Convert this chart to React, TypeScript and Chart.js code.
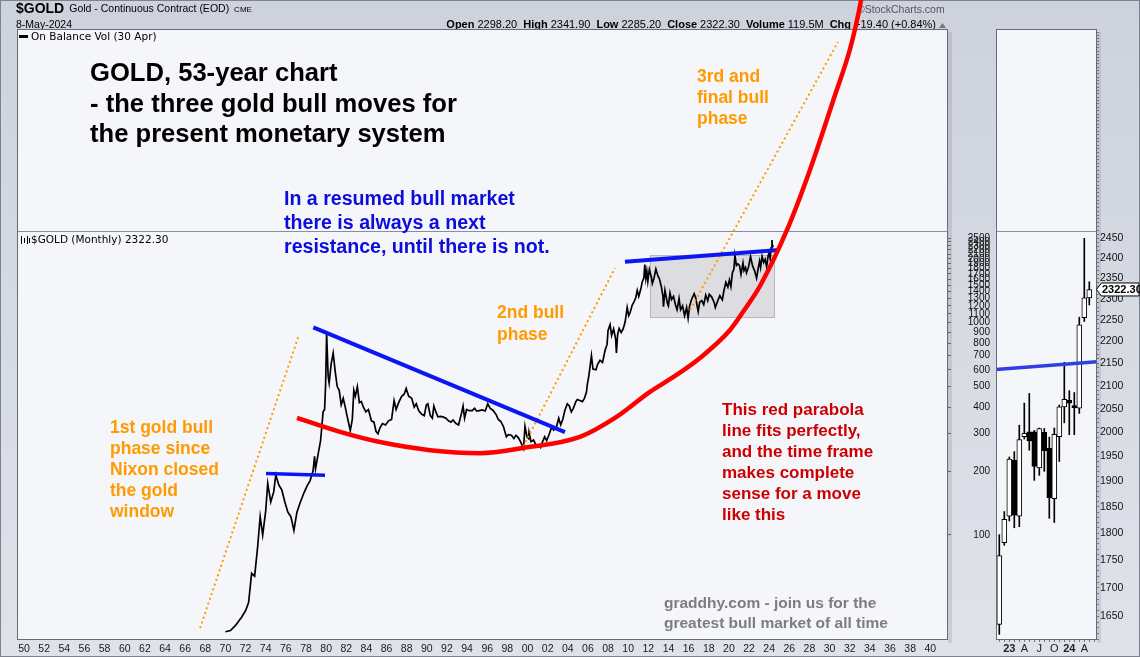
import React, { useEffect, useRef } from "react";
import { Chart, registerables } from "chart.js";
Chart.register(...registerables);

// ---------- Main chart data: $GOLD monthly (year, price) ----------
const gold1970s: [number, number][] = [
  [1970.0, 35], [1970.5, 35.5], [1971.0, 37.5], [1971.6, 41], [1972.0, 44], [1972.3, 48], [1972.6, 66], [1972.9, 64],
  [1973.2, 88], [1973.45, 122], [1973.7, 100], [1974.0, 130], [1974.2, 175], [1974.5, 143], [1974.8, 160], [1975.0, 192],
  [1975.3, 172], [1975.6, 163], [1975.9, 143], [1976.2, 128], [1976.5, 122], [1976.8, 105], [1977.1, 128], [1977.4, 141],
  [1977.8, 158], [1978.1, 170], [1978.4, 180], [1978.7, 200], [1978.85, 235], [1978.95, 205], [1979.2, 240], [1979.45, 278],
  [1979.7, 380], [1979.85, 390], [1979.95, 512],
];
const gold1980s: [number, number][] = [
  [1980.05, 890], [1980.2, 560], [1980.3, 520], [1980.5, 640], [1980.7, 720], [1980.9, 590], [1981.1, 500], [1981.3, 480],
  [1981.5, 410], [1981.7, 440], [1981.9, 400], [1982.1, 360], [1982.4, 310], [1982.6, 350], [1982.75, 480], [1982.9, 450],
  [1983.1, 500], [1983.3, 420], [1983.5, 425], [1983.7, 400], [1983.95, 380], [1984.2, 390], [1984.5, 345], [1984.75, 340],
  [1984.95, 308], [1985.15, 300], [1985.35, 320], [1985.6, 335], [1985.9, 330], [1986.2, 345], [1986.5, 350], [1986.75, 430],
  [1986.95, 390], [1987.2, 420], [1987.5, 450], [1987.75, 460], [1987.95, 490], [1988.2, 450], [1988.5, 440], [1988.75, 400],
  [1988.95, 415], [1989.2, 385], [1989.5, 370], [1989.75, 365], [1989.95, 410],
];
const gold1990s: [number, number][] = [
  [1990.1, 415], [1990.35, 365], [1990.55, 355], [1990.7, 405], [1990.9, 380], [1991.1, 360], [1991.35, 362], [1991.6, 360],
  [1991.9, 355], [1992.15, 345], [1992.4, 340], [1992.6, 348], [1992.9, 335], [1993.15, 330], [1993.45, 375], [1993.6, 405],
  [1993.75, 355], [1993.95, 390], [1994.2, 385], [1994.5, 385], [1994.75, 395], [1994.95, 383], [1995.2, 385], [1995.5, 388],
  [1995.8, 384], [1996.05, 415], [1996.3, 395], [1996.6, 385], [1996.9, 368], [1997.1, 350], [1997.35, 342], [1997.6, 325],
  [1997.9, 290], [1998.1, 297], [1998.4, 295], [1998.65, 285], [1998.85, 295], [1999.1, 287], [1999.35, 272], [1999.6, 255],
  [1999.75, 325], [1999.95, 290],
];
const gold2000s: [number, number][] = [
  [2000.1, 285], [2000.15, 305], [2000.35, 275], [2000.6, 280], [2000.85, 265], [2001.1, 265], [2001.3, 258], [2001.45, 272],
  [2001.7, 290], [2001.9, 278], [2002.15, 298], [2002.4, 322], [2002.6, 312], [2002.85, 320], [2003.1, 355], [2003.3, 330],
  [2003.5, 350], [2003.7, 385], [2003.95, 415], [2004.15, 405], [2004.35, 380], [2004.55, 395], [2004.8, 425], [2004.95, 435],
  [2005.2, 430], [2005.45, 425], [2005.65, 440], [2005.85, 470], [2005.95, 515], [2006.1, 565], [2006.35, 700], [2006.5, 605],
  [2006.8, 600], [2006.95, 635], [2007.2, 665], [2007.45, 650], [2007.7, 740], [2007.9, 790], [2008.0, 920], [2008.2, 980],
  [2008.35, 870], [2008.55, 935], [2008.75, 840], [2008.83, 720], [2008.95, 880], [2009.1, 940], [2009.3, 900], [2009.5, 935],
  [2009.7, 1010], [2009.9, 1180],
];
const gold2010s: [number, number][] = [
  [2010.05, 1080], [2010.2, 1120], [2010.4, 1210], [2010.55, 1245], [2010.75, 1310], [2010.9, 1420], [2011.05, 1330],
  [2011.25, 1440], [2011.4, 1560], [2011.55, 1620], [2011.65, 1880], [2011.75, 1620], [2011.85, 1750], [2011.95, 1565],
  [2012.1, 1780], [2012.3, 1640], [2012.4, 1530], [2012.55, 1610], [2012.75, 1790], [2012.95, 1660], [2013.1, 1610],
  [2013.3, 1470], [2013.45, 1330], [2013.5, 1190], [2013.65, 1420], [2013.9, 1230], [2013.99, 1200], [2014.15, 1380],
  [2014.3, 1285], [2014.5, 1330], [2014.7, 1210], [2014.85, 1150], [2015.05, 1300], [2015.2, 1150], [2015.4, 1200],
  [2015.6, 1080], [2015.8, 1180], [2015.95, 1050], [2016.1, 1200], [2016.3, 1290], [2016.55, 1370], [2016.7, 1310],
  [2016.95, 1130], [2017.1, 1250], [2017.3, 1270], [2017.5, 1215], [2017.7, 1350], [2017.9, 1270], [2018.05, 1360],
  [2018.3, 1320], [2018.55, 1240], [2018.65, 1180], [2018.95, 1290], [2019.1, 1340], [2019.35, 1280], [2019.5, 1410],
  [2019.7, 1550], [2019.9, 1470],
];
const gold2020s: [number, number][] = [
  [2020.05, 1590], [2020.2, 1480], [2020.35, 1720], [2020.5, 1790], [2020.6, 2075], [2020.75, 1860], [2020.9, 1890],
  [2021.05, 1860], [2021.2, 1690], [2021.4, 1910], [2021.5, 1760], [2021.65, 1820], [2021.75, 1720], [2021.95, 1830],
  [2022.15, 2050], [2022.35, 1850], [2022.55, 1760], [2022.75, 1620], [2022.9, 1790], [2023.05, 1950], [2023.15, 1820],
  [2023.3, 2050], [2023.45, 1920], [2023.6, 1990], [2023.75, 1830], [2023.9, 2070], [2024.0, 2150], [2024.1, 2010],
  [2024.2, 2250], [2024.28, 2450], [2024.32, 2290], [2024.36, 2322],
];

const yearTicks = [
  1950, 1952, 1954, 1956, 1958, 1960, 1962, 1964, 1966, 1968, 1970, 1972, 1974, 1976, 1978, 1980, 1982, 1984, 1986, 1988,
  1990, 1992, 1994, 1996, 1998, 2000, 2002, 2004, 2006, 2008, 2010, 2012, 2014, 2016, 2018, 2020, 2022, 2024, 2026, 2028,
  2030, 2032, 2034, 2036, 2038, 2040,
];
const priceTicks = [100, 200, 300, 400, 500, 600, 700, 800, 900, 1000, 1100, 1200, 1300, 1400, 1500, 1600, 1700, 1800, 1900,
  2000, 2100, 2200, 2300, 2400, 2500];

// ---------- Annotations (year, price) ----------
const redParabola: [number, number][] = [
  [1977.11, 356], [1981.38, 306], [1985.35, 274], [1990.32, 251], [1995.28, 243], [1999.55, 257], [2005.21, 290],
  [2008.69, 356], [2012.16, 472], [2014.65, 561], [2017.13, 682], [2020.11, 924], [2021.6, 1160], [2023.09, 1489],
  [2025.77, 2733], [2028.05, 5240], [2030.54, 11815], [2032.03, 19464], [2032.92, 29390], [2033.22, 34970],
];
const blueDowntrend: [number, number][] = [[1978.73, 951], [2003.72, 305]];
const blue1974Top: [number, number][] = [[1974.03, 195], [1979.89, 191]];
const blueResistance: [number, number][] = [[2009.68, 1938], [2024.98, 2199]];
const orangePhase1: [number, number][] = [[1967.48, 36.4], [1977.24, 859]];
const orangePhase2: [number, number][] = [[1999.58, 261], [2008.69, 1810]];
const orangePhase3: [number, number][] = [[2016.14, 1148], [2030.83, 21000]];
const rangeBoxYears = [2012.15, 2024.5];
const rangeBoxPrices = [1064, 2084];

const titleLines = ["GOLD, 53-year chart", "- the three gold bull moves for", "the present monetary system"];
const blueNote = ["In a resumed bull market", "there is always a next", "resistance, until there is not."];
const phase3Note = ["3rd and", "final bull", "phase"];
const phase2Note = ["2nd bull", "phase"];
const phase1Note = ["1st gold bull", "phase since", "Nixon closed", "the gold", "window"];
const redNote = ["This red parabola", "line fits perfectly,", "and the time frame", "makes complete", "sense for a move", "like this"];
const footerNote = ["graddhy.com - join us for the", "greatest bull market of all time"];
const headerStats: [string, string][] = [
  ["Open", "2298.20"], ["High", "2341.90"], ["Low", "2285.20"], ["Close", "2322.30"], ["Volume", "119.5M"], ["Chg", "+19.40 (+0.84%)"],
];

// ---------- Mini chart: monthly candles (month index from Jan 2023) ----------
const candleMonth = [-3, -2, -1, 0, 1, 2, 3, 4, 5, 6, 7, 8, 9, 10, 11, 12, 13, 14, 15, 16];
const candleOpen = [1672, 1636, 1782, 1832, 1943, 1832, 1991, 2001, 2001, 1927, 2000, 1967, 1866, 1991, 2054, 2068, 2057, 2051, 2255, 2302];
const candleHigh = [1729, 1797, 1841, 1949, 1960, 2015, 2062, 2083, 2004, 2009, 2008, 1990, 2009, 2058, 2152, 2089, 2085, 2256, 2450, 2341];
const candleLow = [1617, 1619, 1777, 1823, 1810, 1812, 1986, 1963, 1902, 1912, 1920, 1828, 1820, 1940, 2020, 1995, 1995, 2040, 2246, 2285];
const candleClose = [1641, 1758, 1826, 1945, 1834, 1985, 1998, 1982, 1930, 2008, 1962, 1868, 1996, 2054, 2070, 2062, 2052, 2238, 2302, 2322];
const miniBlueLine: [number, number][] = [[-2.66, 2136], [17.54, 2153]];
const miniLabelMonths = [0, 3, 6, 9, 12, 15];
const miniLabelText = ["23", "A", "J", "O", "24", "A"];
const miniPriceLabels = [1650, 1700, 1750, 1800, 1850, 1900, 1950, 2000, 2050, 2100, 2150, 2200, 2250, 2300, 2350, 2400, 2450];
const lastClose = 2322.3;

const F = '"Liberation Sans", Arial, sans-serif';
const PANEL_BG = "#f5f6fa";

const toXY = (arr: [number, number][]) => arr.map(([x, y]) => ({ x, y }));

function drawLines(ctx: CanvasRenderingContext2D, lines: string[], x: number, y0: number, lh: number, font: string, color: string) {
  ctx.font = font;
  ctx.fillStyle = color;
  ctx.textAlign = "left";
  ctx.textBaseline = "middle";
  lines.forEach((t, i) => ctx.fillText(t, x, y0 + i * lh));
}

const mainDecor = {
  id: "mainDecor",
  beforeDraw(chart: any) {
    const { ctx, chartArea: a } = chart;
    ctx.save();
    ctx.fillStyle = "rgba(70,75,92,0.14)";
    ctx.fillRect(a.right, a.top + 3, 4, a.bottom - a.top);
    ctx.fillStyle = PANEL_BG;
    ctx.fillRect(a.left, a.top, a.right - a.left, a.bottom - a.top);
    // header
    ctx.textBaseline = "middle";
    ctx.textAlign = "left";
    ctx.fillStyle = "#000";
    ctx.font = `bold 14px "Liberation Sans Narrow", ${F}`;
    ctx.fillText("$GOLD", 16, 9);
    const w = ctx.measureText("$GOLD").width;
    ctx.font = `10.5px "Liberation Sans Narrow", ${F}`;
    ctx.fillText("Gold - Continuous Contract (EOD)", 16 + w + 5, 9);
    const w2 = ctx.measureText("Gold - Continuous Contract (EOD)").width;
    ctx.font = `8px ${F}`;
    ctx.fillText("CME", 16 + w + 5 + w2 + 5, 10);
    ctx.font = `10.5px ${F}`;
    ctx.fillText("8-May-2024", 16, 25);
    // stats
    const gap = 6;
    let total = 0;
    const parts = headerStats.map(([l, v]) => {
      ctx.font = `bold 11px ${F}`;
      const lw = ctx.measureText(l).width;
      ctx.font = `11px ${F}`;
      const vw = ctx.measureText(v).width;
      return { l, v, lw, vw };
    });
    parts.forEach((p, i) => { total += p.lw + 3 + p.vw + (i < parts.length - 1 ? gap : 0); });
    let x = 936 - total;
    parts.forEach((p) => {
      ctx.font = `bold 11px ${F}`;
      ctx.fillText(p.l, x, 25);
      x += p.lw + 3;
      ctx.font = `11px ${F}`;
      ctx.fillText(p.v, x, 25);
      x += p.vw + gap;
    });
    ctx.fillStyle = "#777";
    ctx.beginPath();
    ctx.moveTo(939, 28); ctx.lineTo(946, 28); ctx.lineTo(942.5, 23); ctx.closePath();
    ctx.fill();
    ctx.fillStyle = "#555";
    ctx.font = `10.5px ${F}`;
    ctx.fillText("\u00A9StockCharts.com", 857, 10);
    ctx.restore();
  },
  beforeDatasetsDraw(chart: any) {
    const { ctx, chartArea: a, scales } = chart;
    const xs = scales.x, ys = scales.y;
    ctx.save();
    const bx0 = xs.getPixelForValue(rangeBoxYears[0]);
    const bx1 = xs.getPixelForValue(rangeBoxYears[1]);
    const by0 = ys.getPixelForValue(rangeBoxPrices[1]);
    const by1 = ys.getPixelForValue(rangeBoxPrices[0]);
    ctx.fillStyle = "#dcdce1";
    ctx.fillRect(bx0, by0, bx1 - bx0, by1 - by0);
    ctx.strokeStyle = "#b4b5be";
    ctx.lineWidth = 1;
    ctx.strokeRect(Math.round(bx0) + 0.5, Math.round(by0) + 0.5, Math.round(bx1 - bx0), Math.round(by1 - by0));
    // panel separator
    ctx.strokeStyle = "#8a8e9b";
    ctx.beginPath();
    ctx.moveTo(a.left, 231.5); ctx.lineTo(a.right, 231.5);
    ctx.stroke();
    // panel border
    ctx.strokeStyle = "#676b78";
    ctx.strokeRect(a.left + 0.5, a.top + 0.5, a.right - a.left - 1, a.bottom - a.top - 1);
    // legends
    ctx.fillStyle = "#000";
    ctx.fillRect(19, 35, 9, 3);
    ctx.font = '10.5px "DejaVu Sans", sans-serif';
    ctx.textBaseline = "middle";
    ctx.fillText("On Balance Vol (30 Apr)", 31, 37);
    ctx.lineWidth = 1;
    ctx.strokeStyle = "#000";
    [21, 24, 27, 29].forEach((px, i) => {
      ctx.beginPath();
      ctx.moveTo(px + 0.5, 236 + (i % 2) * 2);
      ctx.lineTo(px + 0.5, 244 - (i % 2));
      ctx.stroke();
    });
    ctx.fillText("$GOLD (Monthly) 2322.30", 31, 240);
    ctx.restore();
  },
  afterDatasetsDraw(chart: any) {
    const { ctx } = chart;
    ctx.save();
    drawLines(ctx, titleLines, 90, 74, 30.5, `bold 25.6px ${F}`, "#000");
    drawLines(ctx, blueNote, 284, 200, 24, `bold 19.6px ${F}`, "#0c0cdc");
    drawLines(ctx, phase3Note, 697, 77, 21, `bold 17.5px ${F}`, "#ff9a00");
    drawLines(ctx, phase2Note, 497, 313, 22, `bold 17.5px ${F}`, "#ff9a00");
    drawLines(ctx, phase1Note, 110, 428, 21, `bold 17.5px ${F}`, "#ff9a00");
    drawLines(ctx, redNote, 722, 410, 21, `bold 17px ${F}`, "#cc0000");
    drawLines(ctx, footerNote, 664, 604, 20, `bold 15.5px ${F}`, "#7d7d7d");
    ctx.restore();
  },
};

const miniDecor = {
  id: "miniDecor",
  beforeDraw(chart: any) {
    const { ctx, chartArea: a } = chart;
    ctx.save();
    ctx.fillStyle = "rgba(70,75,92,0.14)";
    ctx.fillRect(a.right, a.top + 3, 4, a.bottom - a.top);
    ctx.fillStyle = PANEL_BG;
    ctx.fillRect(a.left, a.top, a.right - a.left, a.bottom - a.top);
    ctx.restore();
  },
  beforeDatasetsDraw(chart: any) {
    const { ctx, chartArea: a } = chart;
    ctx.save();
    ctx.strokeStyle = "#8a8e9b";
    ctx.lineWidth = 1;
    ctx.beginPath();
    ctx.moveTo(a.left, 231.5); ctx.lineTo(a.right, 231.5);
    ctx.stroke();
    ctx.restore();
  },
  afterDraw(chart: any) {
    const { ctx, chartArea: a, scales } = chart;
    ctx.save();
    ctx.strokeStyle = "#676b78";
    ctx.lineWidth = 1;
    ctx.strokeRect(a.left + 0.5, a.top + 0.5, a.right - a.left - 1, a.bottom - a.top - 1);
    const y = scales.y.getPixelForValue(lastClose);
    const x0 = a.right;
    ctx.fillStyle = "#fff";
    ctx.strokeStyle = "#000";
    ctx.beginPath();
    ctx.moveTo(x0 - 0.5, y);
    ctx.lineTo(x0 + 4.5, y - 6.5);
    ctx.lineTo(x0 + 42, y - 6.5);
    ctx.lineTo(x0 + 42, y + 6.5);
    ctx.lineTo(x0 + 4.5, y + 6.5);
    ctx.closePath();
    ctx.fill();
    ctx.stroke();
    ctx.fillStyle = "#000";
    ctx.font = `bold 11px ${F}`;
    ctx.textBaseline = "middle";
    ctx.textAlign = "left";
    ctx.fillText(lastClose.toFixed(2), x0 + 5, y + 0.5);
    ctx.restore();
  },
};

export default function App() {
  const mainRef = useRef<HTMLCanvasElement>(null);
  const miniRef = useRef<HTMLCanvasElement>(null);

  useEffect(() => {
    const goldAll = [...gold1970s, ...gold1980s, ...gold1990s, ...gold2000s, ...gold2010s, ...gold2020s];
    const line = (data: [number, number][], color: string, width: number, extra: any = {}) => ({
      type: "line",
      data: toXY(data),
      borderColor: color,
      borderWidth: width,
      pointRadius: 0,
      fill: false,
      tension: 0,
      ...extra,
    });

    const main = new Chart(mainRef.current as HTMLCanvasElement, {
      type: "line",
      data: {
        datasets: [
          line(goldAll, "#000", 1.7, { order: 5 }),
          line(orangePhase1, "#ff9a00", 2, { order: 4, borderDash: [2, 3] }),
          line(orangePhase2, "#ff9a00", 2, { order: 4, borderDash: [2, 3] }),
          line(orangePhase3, "#ff9a00", 2, { order: 4, borderDash: [2, 3] }),
          line(blueDowntrend, "#0b16f2", 4, { order: 2 }),
          line(blue1974Top, "#0b16f2", 3.5, { order: 2 }),
          line(blueResistance, "#0b16f2", 4, { order: 2 }),
          line(redParabola, "#ff0000", 4.5, { order: 1, clip: false, tension: 0.4, cubicInterpolationMode: "monotone" }),
        ] as any,
      },
      options: {
        responsive: false,
        animation: false,
        events: [],
        layout: { padding: { left: 17, top: 29, right: 0, bottom: 0 } },
        plugins: { legend: { display: false }, tooltip: { enabled: false } },
        scales: {
          x: {
            type: "linear",
            bounds: "data",
            min: 1949.3,
            max: 2041.76,
            grid: { display: false, drawTicks: false },
            border: { display: false },
            afterBuildTicks: (s: any) => { s.ticks = yearTicks.map((v) => ({ value: v })); },
            afterFit: (s: any) => { s.height = 17; },
            ticks: {
              autoSkip: false, maxRotation: 0, minRotation: 0, padding: 3,
              font: { family: F, size: 10.5 }, color: "#1a1a1a",
              callback: (v: any) => String(Number(v) % 100).padStart(2, "0"),
            },
          },
          y: {
            type: "logarithmic",
            position: "right",
            bounds: "data",
            min: 32.02,
            max: 24171,
            grid: { drawOnChartArea: false, drawTicks: true, tickLength: 3, color: "#666" },
            border: { display: false },
            afterBuildTicks: (s: any) => { s.ticks = priceTicks.map((v) => ({ value: v })); },
            afterFit: (s: any) => { s.width = 42; },
            ticks: {
              autoSkip: false, crossAlign: "far", padding: 0,
              font: { family: F, size: 10 }, color: "#111",
              callback: (v: any) => String(v),
            },
          },
        },
      } as any,
      plugins: [mainDecor],
    });

    const bodies = candleMonth.map((m, i) => ({ x: m, y: [candleOpen[i], candleClose[i]] }));
    const wicks = candleMonth.map((m, i) => ({ x: m, y: [candleLow[i], candleHigh[i]] }));
    const bodyColors = candleMonth.map((_, i) => (candleClose[i] >= candleOpen[i] ? "#ffffff" : "#000000"));
    const minorTicks: number[] = [];
    for (let v = 1610; v <= 3040; v += 10) minorTicks.push(v);

    const mini = new Chart(miniRef.current as HTMLCanvasElement, {
      type: "bar",
      data: {
        datasets: [
          { type: "line", data: toXY(miniBlueLine), borderColor: "#2f3fe0", borderWidth: 3.5, pointRadius: 0, order: 0 },
          { data: bodies, backgroundColor: bodyColors, borderColor: "#000", borderWidth: 1, borderSkipped: false, barThickness: 5, grouped: false, order: 1 },
          { data: wicks, backgroundColor: "#000", borderWidth: 0, barThickness: 1, grouped: false, order: 2 },
        ] as any,
      },
      options: {
        responsive: false,
        animation: false,
        events: [],
        layout: { padding: { left: 6, top: 29, right: 0, bottom: 0 } },
        plugins: { legend: { display: false }, tooltip: { enabled: false } },
        scales: {
          x: {
            type: "linear",
            offset: false,
            bounds: "data",
            min: -2.66,
            max: 17.54,
            grid: { drawOnChartArea: false, drawTicks: true, tickLength: 2, color: "#777", offset: false },
            border: { display: false },
            afterBuildTicks: (s: any) => {
              const t: any[] = [];
              for (let m = -2; m <= 17; m++) t.push({ value: m });
              s.ticks = t;
            },
            afterFit: (s: any) => { s.height = 17; },
            ticks: {
              autoSkip: false, maxRotation: 0, minRotation: 0, padding: 0, color: "#222",
              font: (c: any) => ({ family: F, size: 11, weight: c.tick && (c.tick.value === 0 || c.tick.value === 12) ? "bold" : "normal" }),
              callback: (v: any) => {
                const k = miniLabelMonths.indexOf(Number(v));
                return k >= 0 ? miniLabelText[k] : "";
              },
            },
          },
          y: {
            type: "logarithmic",
            position: "right",
            bounds: "data",
            beginAtZero: false,
            min: 1609.5,
            max: 3049.6,
            grid: { drawOnChartArea: false, drawTicks: true, tickLength: 2, color: "#777" },
            border: { display: false },
            afterBuildTicks: (s: any) => { s.ticks = minorTicks.map((v) => ({ value: v })); },
            afterFit: (s: any) => { s.width = 43; },
            ticks: {
              autoSkip: false, padding: 1, color: "#111",
              font: { family: F, size: 10.5 },
              callback: (v: any) => (miniPriceLabels.includes(Number(v)) ? String(v) : ""),
            },
          },
        },
      } as any,
      plugins: [miniDecor],
    });

    return () => {
      main.destroy();
      mini.destroy();
    };
  }, []);

  return (
    <div
      style={{
        position: "absolute",
        left: 0,
        top: 0,
        width: 1140,
        height: 657,
        overflow: "hidden",
        background: "linear-gradient(180deg, #cdd2dd 0%, #dfe2e9 100%)",
        boxShadow: "inset 0 0 0 1px #7d8290",
      }}
    >
      <canvas ref={mainRef} width={990} height={657} style={{ position: "absolute", left: 0, top: 0 }} />
      <canvas ref={miniRef} width={150} height={657} style={{ position: "absolute", left: 990, top: 0 }} />
    </div>
  );
}
